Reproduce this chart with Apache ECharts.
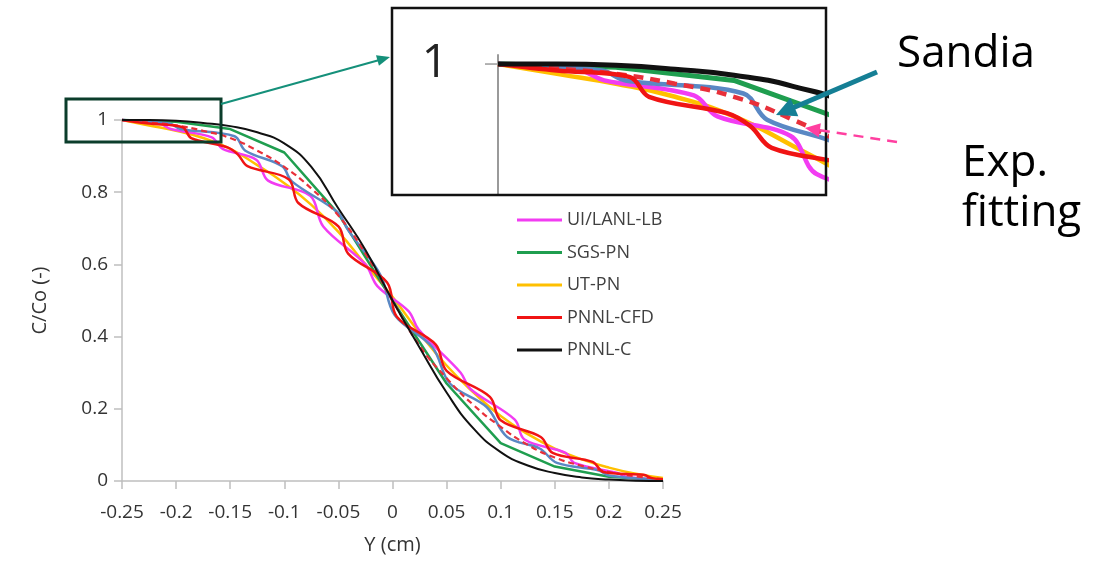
<!DOCTYPE html>
<html>
<head>
<meta charset="utf-8">
<script src="https://cdn.jsdelivr.net/npm/echarts@6/dist/echarts.min.js"></script>
<style>
html,body{margin:0;padding:0;background:#fff;}
#c{width:1102px;height:563px;}
</style>
</head>
<body>
<div id="c"></div>
<script>
// ---------- DATA ----------
const legendNames = ['UI/LANL-LB', 'SGS-PN', 'UT-PN', 'PNNL-CFD', 'PNNL-C'];
const xTickValues = [-0.25, -0.2, -0.15, -0.1, -0.05, 0, 0.05, 0.1, 0.15, 0.2, 0.25];
const yTickValues = [0, 0.2, 0.4, 0.6, 0.8, 1];
const insetTickLabel = '1';

// smooth curves on a 0.025 grid
const xs = [-0.25, -0.225, -0.2, -0.175, -0.15, -0.125, -0.1, -0.075, -0.05, -0.025, 0,
            0.025, 0.05, 0.075, 0.1, 0.125, 0.15, 0.175, 0.2, 0.225, 0.25];
const pnnlC = [1.0, 1.0, 0.998, 0.992, 0.983, 0.966, 0.935, 0.87, 0.755, 0.64, 0.5,
               0.37, 0.245, 0.145, 0.08, 0.043, 0.022, 0.01, 0.004, 0.001, 0.0];
const utPN  = [1.0, 0.985, 0.97, 0.95, 0.92, 0.875, 0.825, 0.765, 0.69, 0.6, 0.51,
               0.41, 0.32, 0.245, 0.18, 0.13, 0.09, 0.06, 0.037, 0.02, 0.008];
const expFit = [1.0, 0.993, 0.985, 0.97, 0.95, 0.915, 0.87, 0.81, 0.735, 0.63, 0.5,
                0.375, 0.285, 0.21, 0.15, 0.1, 0.065, 0.042, 0.025, 0.013, 0.005];

// piecewise-linear curve on a 0.05 grid
const sgsX  = [-0.25, -0.2, -0.15, -0.1, -0.05, 0, 0.05, 0.1, 0.15, 0.2, 0.25];
const sgsPN = [1.0, 0.995, 0.975, 0.91, 0.74, 0.5, 0.27, 0.105, 0.04, 0.012, 0.003];

// stepped curves [x, C/Co]
const uiLanl = [[-0.25,1],[-0.215,0.99],[-0.205,0.975],[-0.167,0.952],[-0.157,0.92],[-0.126,0.89],
  [-0.115,0.832],[-0.076,0.79],[-0.064,0.705],[-0.025,0.6],[-0.014,0.54],[0.015,0.47],[0.024,0.42],
  [0.063,0.3],[0.072,0.255],[0.113,0.17],[0.122,0.115],[0.16,0.078],[0.168,0.05],[0.208,0.022],
  [0.216,0.012],[0.25,0.003]];
const pnnlCFD = [[-0.25,1],[-0.225,0.99],[-0.194,0.98],[-0.186,0.95],[-0.153,0.925],[-0.143,0.905],
  [-0.134,0.872],[-0.096,0.836],[-0.087,0.77],[-0.05,0.705],[-0.041,0.63],[-0.005,0.55],[0.004,0.455],
  [0.04,0.378],[0.05,0.305],[0.09,0.233],[0.1,0.168],[0.137,0.122],[0.148,0.078],[0.185,0.053],
  [0.195,0.025],[0.232,0.017],[0.24,0.008],[0.25,0.005]];
const sandia = [[-0.25,1],[-0.206,0.99],[-0.196,0.975],[-0.146,0.955],[-0.136,0.915],[-0.102,0.872],
  [-0.093,0.83],[-0.051,0.745],[-0.041,0.695],[-0.011,0.57],[0.002,0.46],[0.037,0.37],[0.053,0.27],
  [0.087,0.205],[0.106,0.122],[0.136,0.09],[0.152,0.05],[0.19,0.03],[0.2,0.015],[0.25,0.003]];

// ---------- BUILD ----------
const FONT = '"Open Sans", sans-serif';
const pair = (xArr, yArr) => xArr.map((x, i) => [x, yArr[i]]);

const seriesDefs = [
  {name: 'UT-PN', data: pair(xs, utPN), color: '#ffc000', w: 2.5, wi: 4.5, smooth: 0.5},
  {name: 'SGS-PN', data: pair(sgsX, sgsPN), color: '#1f9e4f', w: 2.5, wi: 5, smooth: false},
  {name: 'UI/LANL-LB', data: uiLanl, color: '#f23cf2', w: 2.5, wi: 4.5, smooth: 0.35},
  {name: 'Sandia', data: sandia, color: '#5a88c4', w: 2.5, wi: 4.5, smooth: 0.35},
  {name: 'Exp. fitting', data: pair(xs, expFit), color: '#e8303a', w: 2.2, wi: 4.5, smooth: 0.5, dash: [6, 4], dashi: [10, 7]},
  {name: 'PNNL-CFD', data: pnnlCFD, color: '#f01414', w: 2.5, wi: 4.5, smooth: 0.35},
  {name: 'PNNL-C', data: pair(xs, pnnlC), color: '#111111', w: 2, wi: 5, smooth: 0.5}
];

const series = [];
seriesDefs.forEach(d => {
  series.push({
    name: d.name, type: 'line', data: d.data, xAxisIndex: 0, yAxisIndex: 0,
    smooth: d.smooth, symbol: 'none', showSymbol: false, clip: false, silent: true,
    lineStyle: {color: d.color, width: d.w, type: d.dash || 'solid'},
    itemStyle: {color: d.color}
  });
});
seriesDefs.forEach(d => {
  series.push({
    name: d.name, type: 'line', data: d.data, xAxisIndex: 1, yAxisIndex: 1,
    smooth: d.smooth, symbol: 'none', showSymbol: false, clip: true, silent: true,
    lineStyle: {color: d.color, width: d.wi, type: d.dashi || 'solid'},
    itemStyle: {color: d.color}
  });
});

function arrow(tail, tip, color, width, headLen, headW, dash) {
  const dx = tip[0] - tail[0], dy = tip[1] - tail[1];
  const L = Math.sqrt(dx * dx + dy * dy);
  const ux = dx / L, uy = dy / L, nx = -uy, ny = ux;
  const bx = tip[0] - ux * headLen, by = tip[1] - uy * headLen;
  return [
    {type: 'line', z: 120, shape: {x1: tail[0], y1: tail[1], x2: bx + ux * 2, y2: by + uy * 2},
     style: {stroke: color, lineWidth: width, lineDash: dash || null}},
    {type: 'polygon', z: 121, shape: {points: [[tip[0], tip[1]],
      [bx + nx * headW / 2, by + ny * headW / 2], [bx - nx * headW / 2, by - ny * headW / 2]]},
     style: {fill: color}}
  ];
}

const graphics = [
  {type: 'rect', z: 110, shape: {x: 392, y: 8, width: 434, height: 187},
   style: {fill: 'none', stroke: '#111', lineWidth: 2.5}},
  {type: 'rect', z: 110, shape: {x: 66, y: 99, width: 155, height: 43},
   style: {fill: 'none', stroke: '#0b3d2b', lineWidth: 3}},
  ...arrow([221, 104], [390, 57], '#15907a', 2, 13, 11),
  ...arrow([877, 72], [776, 115], '#157f95', 5, 20, 20),
  ...arrow([897, 142], [805, 128], '#ff3fa0', 2.5, 15, 14, [10, 7]),
  {type: 'text', z: 120, x: 897, y: 54,
   style: {text: 'Sandia', font: '44px ' + FONT, fill: '#000', verticalAlign: 'middle'}},
  {type: 'text', z: 120, x: 962, y: 163,
   style: {text: 'Exp.', font: '44px ' + FONT, fill: '#000', verticalAlign: 'middle'}},
  {type: 'text', z: 120, x: 962, y: 213,
   style: {text: 'fitting', font: '44px ' + FONT, fill: '#000', verticalAlign: 'middle'}}
];

const axisGray = '#bfbfbf';
const option = {
  animation: false,
  backgroundColor: '#fff',
  grid: [
    {left: 122, top: 120, width: 541, height: 361},
    {left: 498, top: 55, width: 328, height: 140}
  ],
  xAxis: [
    {gridIndex: 0, type: 'value', min: xTickValues[0], max: xTickValues[xTickValues.length - 1], interval: 0.05,
     axisLine: {show: true, onZero: false, lineStyle: {color: axisGray, width: 1.5}},
     axisTick: {show: true, length: 8, lineStyle: {color: axisGray, width: 1.5}},
     splitLine: {show: false},
     axisLabel: {fontSize: 19, color: '#333', margin: 22, fontFamily: FONT, showMinLabel: true, showMaxLabel: true},
     name: 'Y (cm)', nameLocation: 'middle', nameGap: 54,
     nameTextStyle: {fontSize: 20, color: '#333', fontFamily: FONT}},
    {gridIndex: 1, type: 'value', min: -0.25, max: -0.111, show: false}
  ],
  yAxis: [
    {gridIndex: 0, type: 'value', min: yTickValues[0], max: yTickValues[yTickValues.length - 1], interval: 0.2,
     axisLine: {show: true, onZero: false, lineStyle: {color: axisGray, width: 1.5}},
     axisTick: {show: true, length: 8, lineStyle: {color: axisGray, width: 1.5}},
     splitLine: {show: false},
     axisLabel: {fontSize: 19, color: '#333', margin: 14, fontFamily: FONT},
     name: 'C/Co (-)', nameLocation: 'middle', nameGap: 72, nameRotate: 90,
     nameTextStyle: {fontSize: 20, color: '#333', fontFamily: FONT}},
    {gridIndex: 1, type: 'value', min: 0.8, max: 1.0138,
     axisLine: {show: true, onZero: false, lineStyle: {color: '#9a9a9a', width: 2}},
     axisTick: {show: false}, axisLabel: {show: false}, splitLine: {show: false}}
  ],
  legend: {
    data: legendNames.map(n => ({name: n, icon: 'rect'})),
    orient: 'vertical', left: 517, top: 211, padding: 0,
    itemWidth: 45, itemHeight: 3, itemGap: 14.5,
    textStyle: {fontSize: 18, color: '#404040', fontFamily: FONT}
  },
  series: series,
  graphic: graphics
};

const chart = echarts.init(document.getElementById('c'), null, {renderer: 'canvas'});
chart.setOption(option);

// inset "1" tick and label placed through the inset axis scale
const p1 = chart.convertToPixel({xAxisIndex: 1, yAxisIndex: 1}, [-0.25, 1]);
const extra = [
  {type: 'line', z: 105, shape: {x1: p1[0] - 13, y1: p1[1], x2: p1[0], y2: p1[1]},
   style: {stroke: '#9a9a9a', lineWidth: 1.5}},
  {type: 'text', z: 105, x: p1[0] - 50, y: p1[1],
   style: {text: insetTickLabel, font: '46px ' + FONT, fill: '#222', align: 'right', verticalAlign: 'middle'}}
];
chart.setOption({graphic: graphics.concat(extra)}, {replaceMerge: ['graphic']});
</script>
</body>
</html>
